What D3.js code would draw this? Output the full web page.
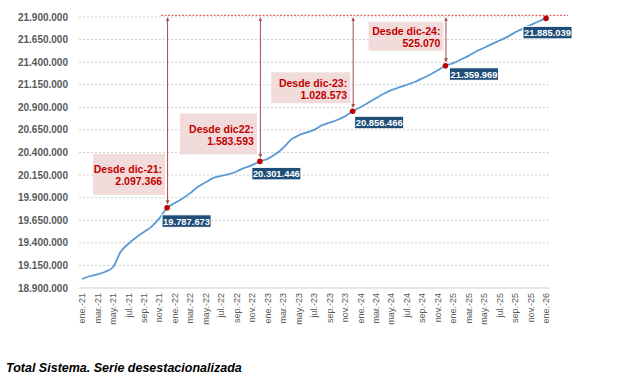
<!DOCTYPE html>
<html>
<head>
<meta charset="utf-8">
<script src="https://cdn.jsdelivr.net/npm/d3@7"></script>
<style>
  html, body { margin: 0; padding: 0; background: #fff; }
  svg { display: block; }
</style>
</head>
<body>
<div id="chart"></div>
<script>
// Afiliación — Total Sistema, serie desestacionalizada (ene-21 .. ene-26)

const monthNames = ['ene.', 'feb.', 'mar.', 'abr.', 'may.', 'jun.', 'jul.', 'ago.', 'sep.', 'oct.', 'nov.', 'dic.'];
const years = ['21', '22', '23', '24', '25', '26'];

const values = [
  19000000, 19030000, 19050000, 19080000, 19130000, 19300000, 19390000, 19460000, 19520000, 19580000, 19670000, 19787673,
  19840000, 19890000, 19950000, 20020000, 20070000, 20120000, 20140000, 20160000, 20190000, 20230000, 20260000, 20301446,
  20330000, 20380000, 20450000, 20540000, 20590000, 20620000, 20650000, 20700000, 20730000, 20760000, 20800000, 20856466,
  20900000, 20950000, 21000000, 21050000, 21090000, 21120000, 21150000, 21180000, 21220000, 21260000, 21310000, 21359969,
  21390000, 21430000, 21470000, 21520000, 21560000, 21600000, 21640000, 21680000, 21730000, 21770000, 21810000, 21850000,
  21885039
];

const yTicks = [18900000, 19150000, 19400000, 19650000, 19900000, 20150000, 20400000, 20650000, 20900000, 21150000, 21400000, 21650000, 21900000];

// Meses de referencia (índices) y su rótulo
const refIdx = [11, 23, 35, 47];
const refLabels = ['Desde dic-21:', 'Desde dic22:', 'Desde dic-23:', 'Desde dic-24:'];

const caption = 'Total Sistema. Serie desestacionalizada';

// construcción de categorías
const months = [];
years.forEach(y => monthNames.forEach(m => months.push(m + '-' + y)));
months.length = values.length;

// ── layout
const W = 629, H = 386;
const COL = {
  axisTxt: '#595959', grid: '#d0d0d0', line: '#5b9bd5',
  red: '#c00000', arrow: '#a84b4b', boxFill: '#f2dcdb', valFill: '#1f4e79'
};
const FONT = '"Liberation Sans", Arial, sans-serif';

// cajas de variación, desplazamientos relativos al marcador (derecha, arriba, ancho, alto)
const noteBox = [
  { dr: -2, dt: -54, w: 72, h: 41 },
  { dr: -3, dt: -48, w: 77, h: 41 },
  { dr: -2.5, dt: -39, w: 79, h: 31 },
  { dr: -2, dt: -44, w: 75, h: 29 }
];
// etiquetas de valor (izquierda, arriba) relativas al marcador
const valBox = [
  { dx: -5, dy: 7 }, { dx: -8, dy: 6 }, { dx: 2, dy: 5 }, { dx: 4, dy: 2 }, { dx: -23, dy: 8 }
];

const fmt = d3.formatLocale({ decimal: ',', thousands: '.', grouping: [3], currency: ['', '€'] }).format(',.0f');

const svg = d3.select('#chart').append('svg')
  .attr('width', W).attr('height', H)
  .attr('viewBox', `0 0 ${W} ${H}`);

const x = d3.scalePoint().domain(months).range([82, 546]);
const y = d3.scaleLinear().domain([18900000, 21900000]).range([288, 17]);

// rejilla punteada
svg.append('g').selectAll('line')
  .data(yTicks.slice(1))
  .join('line')
  .attr('x1', 79).attr('x2', 550)
  .attr('y1', d => y(d)).attr('y2', d => y(d))
  .attr('stroke', COL.grid).attr('stroke-width', 1)
  .attr('stroke-dasharray', '2,2');

// eje inferior
svg.append('line')
  .attr('x1', 79).attr('x2', 550)
  .attr('y1', y(18900000)).attr('y2', y(18900000))
  .attr('stroke', COL.grid).attr('stroke-width', 1);

// etiquetas eje Y
svg.append('g').selectAll('text')
  .data(yTicks)
  .join('text')
  .attr('x', 68).attr('y', d => y(d)).attr('dy', '0.35em')
  .attr('text-anchor', 'end')
  .attr('font-family', FONT).attr('font-size', 10).attr('font-weight', 700)
  .attr('fill', COL.axisTxt)
  .text(d => fmt(d));

// etiquetas eje X (cada 2 meses, verticales)
svg.append('g').selectAll('text')
  .data(months.filter((m, i) => i % 2 === 0))
  .join('text')
  .attr('transform', d => `translate(${x(d)},293) rotate(-90)`)
  .attr('dy', '0.35em')
  .attr('text-anchor', 'end')
  .attr('font-family', FONT).attr('font-size', 9)
  .attr('fill', COL.axisTxt)
  .text(d => d);

// línea roja superior (nivel actual)
const last = values.length - 1;
svg.append('line')
  .attr('x1', 161).attr('x2', 568)
  .attr('y1', y(values[last]) - 3).attr('y2', y(values[last]) - 3)
  .attr('stroke', '#e05050').attr('stroke-width', 1)
  .attr('stroke-dasharray', '2,1.5');

// serie
svg.append('path')
  .datum(values)
  .attr('fill', 'none')
  .attr('stroke', COL.line).attr('stroke-width', 1.8)
  .attr('d', d3.line().x((d, i) => x(months[i])).y(d => y(d)).curve(d3.curveMonotoneX));

// flechas
const defs = svg.append('defs');
defs.append('marker')
  .attr('id', 'ah').attr('viewBox', '0 0 10 10')
  .attr('refX', 9).attr('refY', 5)
  .attr('markerWidth', 4).attr('markerHeight', 4)
  .attr('orient', 'auto-start-reverse')
  .append('path').attr('d', 'M0,0L10,5L0,10Z').attr('fill', COL.arrow);

const topY = y(values[last]) - 0.5;
svg.append('g').selectAll('line')
  .data(refIdx)
  .join('line')
  .attr('x1', i => x(months[i]) + 0.5).attr('x2', i => x(months[i]) + 0.5)
  .attr('y1', i => y(values[i]) - 4).attr('y2', topY)
  .attr('stroke', COL.arrow).attr('stroke-width', 1)
  .attr('marker-start', 'url(#ah)').attr('marker-end', 'url(#ah)');

// cajas de variación
const notes = svg.append('g').selectAll('g')
  .data(refIdx)
  .join('g');
notes.append('rect')
  .attr('x', (i, k) => x(months[i]) + noteBox[k].dr - noteBox[k].w)
  .attr('y', (i, k) => y(values[i]) + noteBox[k].dt)
  .attr('width', (i, k) => noteBox[k].w)
  .attr('height', (i, k) => noteBox[k].h)
  .attr('fill', COL.boxFill);
notes.append('text')
  .attr('x', (i, k) => x(months[i]) + noteBox[k].dr - 3)
  .attr('y', (i, k) => y(values[i]) + noteBox[k].dt + noteBox[k].h / 2 - 1)
  .attr('text-anchor', 'end')
  .attr('font-family', FONT).attr('font-size', 10.5).attr('font-weight', 700)
  .attr('fill', COL.red)
  .text((i, k) => refLabels[k]);
notes.append('text')
  .attr('x', (i, k) => x(months[i]) + noteBox[k].dr - 3)
  .attr('y', (i, k) => y(values[i]) + noteBox[k].dt + noteBox[k].h / 2 + 11)
  .attr('text-anchor', 'end')
  .attr('font-family', FONT).attr('font-size', 10.5).attr('font-weight', 700)
  .attr('fill', COL.red)
  .text(i => fmt(values[last] - values[i]));

// marcadores y etiquetas de valor
const marked = refIdx.concat([last]);
svg.append('g').selectAll('circle')
  .data(marked)
  .join('circle')
  .attr('cx', i => x(months[i])).attr('cy', i => y(values[i]))
  .attr('r', 2.8)
  .attr('fill', COL.red);

const vals = svg.append('g').selectAll('g')
  .data(marked)
  .join('g')
  .attr('transform', (i, k) => `translate(${x(months[i]) + valBox[k].dx},${y(values[i]) + valBox[k].dy})`);
vals.append('rect')
  .attr('width', 49).attr('height', 12.5)
  .attr('fill', COL.valFill)
  .attr('stroke', '#fff').attr('stroke-width', 1);
vals.append('text')
  .attr('x', 24.5).attr('y', 9.8)
  .attr('text-anchor', 'middle')
  .attr('font-family', FONT).attr('font-size', 9.4).attr('font-weight', 700)
  .attr('fill', '#fff')
  .text(i => fmt(values[i]));

// pie
svg.append('text')
  .attr('x', 6).attr('y', 372)
  .attr('font-family', FONT).attr('font-size', 12.5)
  .attr('font-weight', 700).attr('font-style', 'italic')
  .attr('fill', '#000')
  .text(caption);
</script>
</body>
</html>
